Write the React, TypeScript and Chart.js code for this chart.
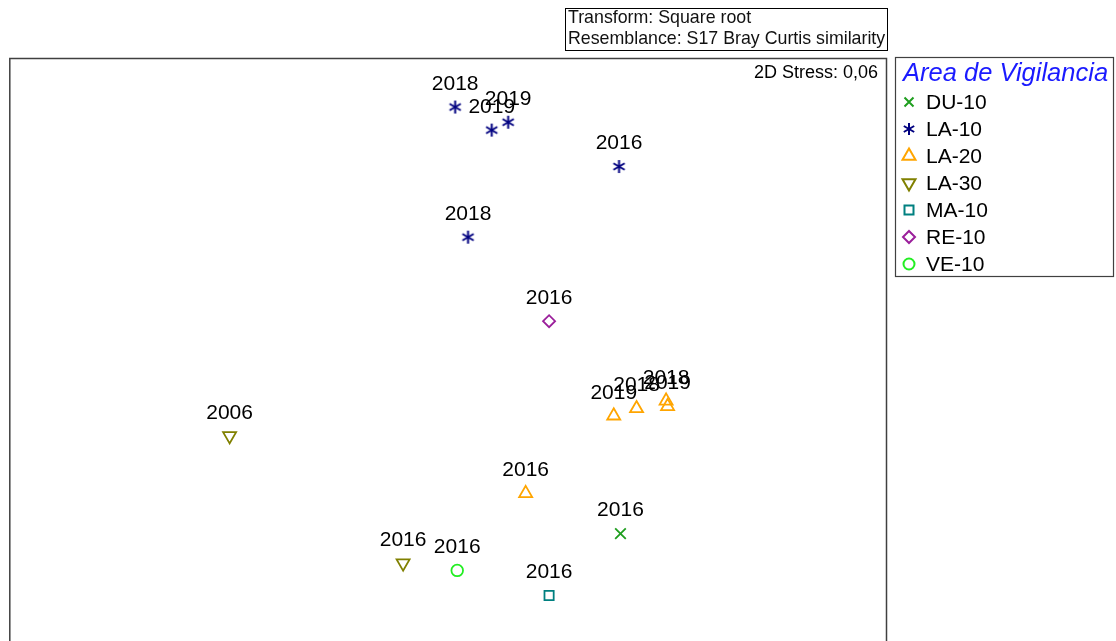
import React, { useEffect, useRef } from "react";
import { Chart, registerables } from "chart.js";

Chart.register(...registerables);

// ---- Data (NMDS coordinates) ----
const groupNames = ["DU-10", "LA-10", "LA-20", "LA-30", "MA-10", "RE-10", "VE-10"];
const groupColors = ["#1f9e1f", "#000080", "#FFA500", "#808000", "#008080", "#9b1f9b", "#22ee22"];

const du10X = [0.589];
const du10Y = [-0.63];
const du10Years = ["2016"];

const la10X = [0.024, 0.149, 0.205, 0.584, 0.068];
const la10Y = [0.832, 0.753, 0.78, 0.628, 0.386];
const la10Years = ["2018", "2019", "2019", "2016", "2018"];

const la20X = [0.265, 0.566, 0.644, 0.745, 0.75];
const la20Y = [-0.492, -0.226, -0.201, -0.175, -0.194];
const la20Years = ["2016", "2019", "2018", "2018", "2019"];

const la30X = [-0.747, -0.154];
const la30Y = [-0.295, -0.731];
const la30Years = ["2006", "2016"];

const ma10X = [0.345];
const ma10Y = [-0.842];
const ma10Years = ["2016"];

const re10X = [0.345];
const re10Y = [0.098];
const re10Years = ["2016"];

const ve10X = [0.031];
const ve10Y = [-0.756];
const ve10Years = ["2016"];

const titleLines = ["Transform: Square root", "Resemblance: S17 Bray Curtis similarity"];
const stressText = "2D Stress: 0,06";
const legendTitle = "Area de Vigilancia";

const FONT = "'Liberation Sans', Arial, sans-serif";

function makeAsterisk(color: string, size: number): HTMLCanvasElement {
  const c = document.createElement("canvas");
  c.width = size + 4;
  c.height = size + 4;
  const ctx = c.getContext("2d")!;
  const cx = c.width / 2;
  const cy = c.height / 2;
  const r = size / 2;
  ctx.strokeStyle = color;
  ctx.lineWidth = 2;
  ctx.lineCap = "butt";
  for (let i = 0; i < 3; i++) {
    const a = (Math.PI / 3) * i + Math.PI / 2;
    ctx.beginPath();
    ctx.moveTo(cx + Math.cos(a) * r, cy - Math.sin(a) * r);
    ctx.lineTo(cx - Math.cos(a) * r, cy + Math.sin(a) * r);
    ctx.stroke();
  }
  return c;
}

function toPoints(xs: number[], ys: number[]) {
  return xs.map((x, i) => ({ x, y: ys[i] }));
}

function drawLegendMarker(ctx: CanvasRenderingContext2D, idx: number, x: number, y: number, asterisk: HTMLCanvasElement) {
  const color = groupColors[idx];
  ctx.save();
  ctx.strokeStyle = color;
  ctx.lineWidth = 2;
  ctx.beginPath();
  switch (idx) {
    case 0: {
      const d = 4.5;
      ctx.moveTo(x - d, y - d);
      ctx.lineTo(x + d, y + d);
      ctx.moveTo(x + d, y - d);
      ctx.lineTo(x - d, y + d);
      ctx.stroke();
      break;
    }
    case 1:
      ctx.drawImage(asterisk, x - asterisk.width / 2, y - asterisk.height / 2);
      break;
    case 2: {
      const r = 7.5;
      ctx.moveTo(x, y - r);
      ctx.lineTo(x + r * 0.866, y + r * 0.5);
      ctx.lineTo(x - r * 0.866, y + r * 0.5);
      ctx.closePath();
      ctx.stroke();
      break;
    }
    case 3: {
      const r = 7.5;
      ctx.moveTo(x, y + r);
      ctx.lineTo(x + r * 0.866, y - r * 0.5);
      ctx.lineTo(x - r * 0.866, y - r * 0.5);
      ctx.closePath();
      ctx.stroke();
      break;
    }
    case 4:
      ctx.rect(x - 4.5, y - 4.5, 9, 9);
      ctx.stroke();
      break;
    case 5: {
      const r = 6;
      ctx.moveTo(x, y - r);
      ctx.lineTo(x + r, y);
      ctx.lineTo(x, y + r);
      ctx.lineTo(x - r, y);
      ctx.closePath();
      ctx.stroke();
      break;
    }
    case 6:
      ctx.arc(x, y, 5.5, 0, Math.PI * 2);
      ctx.stroke();
      break;
  }
  ctx.restore();
}

export default function App() {
  const canvasRef = useRef<HTMLCanvasElement | null>(null);

  useEffect(() => {
    const canvas = canvasRef.current;
    if (!canvas) return;
    const asterisk = makeAsterisk(groupColors[1], 13);
    const legendAsterisk = makeAsterisk(groupColors[1], 12);

    const yearLists = [du10Years, la10Years, la20Years, la30Years, ma10Years, re10Years, ve10Years];

    const annotations = {
      id: "annotations",
      afterDraw(chart: any) {
        const ctx: CanvasRenderingContext2D = chart.ctx;
        const { left, top, right } = chart.chartArea;
        const H = chart.height;
        ctx.save();
        // plot frame (bottom edge lies below the window)
        ctx.strokeStyle = "#404040";
        ctx.lineWidth = 1.5;
        ctx.beginPath();
        ctx.moveTo(left + 0.5, H + 10);
        ctx.lineTo(left + 0.5, top + 0.5);
        ctx.lineTo(right - 0.5, top + 0.5);
        ctx.lineTo(right - 0.5, H + 10);
        ctx.stroke();

        // point labels
        ctx.fillStyle = "#000";
        ctx.font = `21px ${FONT}`;
        ctx.textAlign = "center";
        ctx.textBaseline = "middle";
        chart.data.datasets.forEach((ds: any, di: number) => {
          const meta = chart.getDatasetMeta(di);
          meta.data.forEach((el: any, i: number) => {
            ctx.fillText(yearLists[di][i], el.x, el.y - 23);
          });
        });

        // stress text
        ctx.font = `18px ${FONT}`;
        ctx.textAlign = "right";
        ctx.fillText(stressText, 878, 73);

        // top info box
        ctx.strokeStyle = "#000";
        ctx.lineWidth = 1;
        ctx.strokeRect(565.5, 8.5, 322, 42);
        ctx.font = `17.8px ${FONT}`;
        ctx.textAlign = "left";
        ctx.fillStyle = "#111";
        ctx.fillText(titleLines[0], 568, 18);
        ctx.fillText(titleLines[1], 568, 39);

        // legend box
        ctx.strokeStyle = "#404040";
        ctx.lineWidth = 1.2;
        ctx.strokeRect(895.5, 57.5, 218, 219);
        ctx.font = `italic 25.5px ${FONT}`;
        ctx.fillStyle = "#1a1aff";
        ctx.fillText(legendTitle, 903, 74);
        ctx.font = `21px ${FONT}`;
        ctx.fillStyle = "#000";
        groupNames.forEach((name, i) => {
          const y = 102 + i * 27;
          drawLegendMarker(ctx, i, 909, y, legendAsterisk);
          ctx.fillText(name, 926, y + 1);
        });
        ctx.restore();
      },
    };

    const common = {
      backgroundColor: "rgba(0,0,0,0)",
      borderWidth: 1.8,
      showLine: false,
    };

    const chart = new Chart(canvas, {
      type: "scatter",
      data: {
        datasets: [
          { ...common, label: groupNames[0], data: toPoints(du10X, du10Y), borderColor: groupColors[0], pointStyle: "crossRot", pointRadius: 7.5 },
          { ...common, label: groupNames[1], data: toPoints(la10X, la10Y), borderColor: groupColors[1], pointStyle: asterisk as any, pointRadius: 7 },
          { ...common, label: groupNames[2], data: toPoints(la20X, la20Y), borderColor: groupColors[2], pointStyle: "triangle", pointRadius: 7.5 },
          { ...common, label: groupNames[3], data: toPoints(la30X, la30Y), borderColor: groupColors[3], pointStyle: "triangle", rotation: 180, pointRadius: 7.5 } as any,
          { ...common, label: groupNames[4], data: toPoints(ma10X, ma10Y), borderColor: groupColors[4], pointStyle: "rect", pointRadius: 6.5 },
          { ...common, label: groupNames[5], data: toPoints(re10X, re10Y), borderColor: groupColors[5], pointStyle: "rectRot", pointRadius: 6 },
          { ...common, label: groupNames[6], data: toPoints(ve10X, ve10Y), borderColor: groupColors[6], pointStyle: "circle", pointRadius: 5.8 },
        ],
      },
      options: {
        animation: false,
        responsive: false,
        devicePixelRatio: 1,
        layout: { padding: { left: 9, top: 58, right: 229, bottom: 0 } },
        scales: {
          x: { type: "linear", min: -1.5, max: 1.5, display: false },
          y: { type: "linear", min: -0.966, max: 1.0, display: false },
        },
        plugins: {
          legend: { display: false },
          tooltip: { enabled: false },
          title: { display: false },
        },
      },
      plugins: [annotations],
    });

    return () => chart.destroy();
  }, []);

  return (
    <div style={{ position: "absolute", left: 0, top: 0, width: 1116, height: 641, background: "#fff" }}>
      <canvas ref={canvasRef} width={1116} height={641} style={{ display: "block" }} />
    </div>
  );
}
